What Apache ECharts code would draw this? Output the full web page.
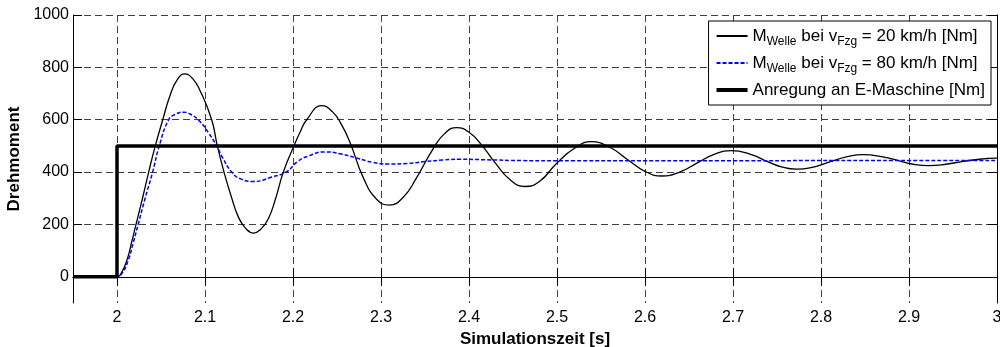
<!DOCTYPE html>
<html>
<head>
<meta charset="utf-8">
<script src="https://cdn.jsdelivr.net/npm/echarts@6/dist/echarts.min.js"></script>
<style>
  html, body { margin: 0; padding: 0; background: #fff; }
  #chart { width: 1000px; height: 347px; }
</style>
</head>
<body>
<div id="chart"></div>
<script>
// M_Welle at 20 km/h
const t20 = [1.95, 2.0, 2.005, 2.0114, 2.0165, 2.0216, 2.029, 2.036, 2.0435, 2.052, 2.06, 2.068, 2.077,
  2.086, 2.0943, 2.1076, 2.114, 2.1216, 2.13, 2.138, 2.146, 2.155, 2.164, 2.172, 2.18, 2.189, 2.201,
  2.208, 2.2156, 2.2326, 2.245, 2.255, 2.265, 2.28, 2.295, 2.3095, 2.325, 2.34, 2.359, 2.372, 2.386,
  2.40, 2.414, 2.43, 2.447, 2.4636, 2.48, 2.50, 2.52, 2.539, 2.56, 2.58, 2.60, 2.619, 2.64, 2.66,
  2.68, 2.698, 2.72, 2.74, 2.755, 2.772, 2.79, 2.81, 2.83, 2.848, 2.87, 2.89, 2.905, 2.922, 2.94,
  2.96, 2.98, 3.0]
const m20 = [0, 0, 15, 65, 130, 200, 300, 400, 500, 600, 690, 750, 775,
  757, 712, 600, 500, 400, 305, 228, 186, 167, 184, 222, 296, 400, 500,
  552, 600, 654, 630, 582, 511, 378, 296, 274, 303, 376, 488, 546, 570,
  552, 505, 434, 370, 345, 364, 435, 491, 516, 495, 448, 403, 385, 401, 436,
  470, 482, 468, 439, 420, 411, 418, 439, 459, 467, 458, 442, 430, 425, 429,
  440, 449, 453]

// M_Welle at 80 km/h
const t80 = [1.95, 2.0, 2.006, 2.013, 2.0185, 2.024, 2.032, 2.0405, 2.048, 2.0587, 2.066, 2.0757,
  2.085, 2.0943, 2.104, 2.1133, 2.12, 2.1303, 2.14, 2.155, 2.175, 2.193, 2.205, 2.218, 2.236,
  2.255, 2.272, 2.29, 2.308, 2.33, 2.35, 2.37, 2.39, 2.42, 2.46, 2.52, 2.6, 2.7, 2.8, 2.9, 3.0]
const m80 = [0, 0, 15, 65, 130, 200, 300, 400, 500, 600, 620, 629,
  618, 593, 550, 500, 455, 400, 375, 364, 380, 402, 440, 462, 477,
  469, 454, 438, 431, 433, 440, 446, 449, 447, 444, 443, 443, 443, 444, 444, 444]

// excitation at the e-machine
const tStep = [1.95, 2.0, 2.0, 3.0]
const mStep = [0, 0, 500, 500]

const xTicks = [2, 2.1, 2.2, 2.3, 2.4, 2.5, 2.6, 2.7, 2.8, 2.9, 3]
const yTicks = [0, 200, 400, 600, 800, 1000]

const names = [
  'M_Welle bei v_Fzg = 20 km/h [Nm]',
  'M_Welle bei v_Fzg = 80 km/h [Nm]',
  'Anregung an E-Maschine [Nm]'
]

const pairs = (xs, ys) => xs.map((x, i) => [x, ys[i]])
const font = '"Liberation Sans", Arial, Helvetica, sans-serif'

const chart = echarts.init(document.getElementById('chart'))

const gridLine = { show: true, lineStyle: { color: '#404040', width: 1, type: [7, 4] } }
const boxLine = { show: true, lineStyle: { color: '#000', width: 1 } }

chart.setOption({
  animation: false,
  grid: { left: 73, right: 3, top: 15, bottom: 44, outerBoundsMode: 'none' },
  legend: {
    data: [
      { name: names[0] },
      { name: names[1] },
      { name: names[2], lineStyle: { width: 4 } }
    ],
    orient: 'vertical',
    right: 9,
    top: 21,
    padding: [3, 6, 3, 6],
    itemGap: 3,
    itemWidth: 31,
    itemHeight: 14,
    selectedMode: false,
    backgroundColor: '#fff',
    borderColor: '#000',
    borderWidth: 1,
    borderRadius: 0,
    itemStyle: { opacity: 0, borderWidth: 0 },
    formatter: name => name.replace('M_Welle', 'M{s|Welle}').replace('v_Fzg', 'v{s|Fzg}'),
    textStyle: {
      fontFamily: font,
      fontSize: 17,
      lineHeight: 24,
      color: '#000',
      rich: { s: { fontFamily: font, fontSize: 12, lineHeight: 12, verticalAlign: 'bottom', color: '#000' } }
    }
  },
  xAxis: [{
    type: 'value',
    min: 1.95,
    max: 3,
    name: 'Simulationszeit [s]',
    nameLocation: 'middle',
    nameGap: 25,
    nameTextStyle: { fontFamily: font, fontSize: 17, fontWeight: 'bold', color: '#000' },
    axisLine: boxLine,
    axisTick: { show: true, inside: true, length: 9, customValues: xTicks, lineStyle: { color: '#000' } },
    axisLabel: {
      customValues: xTicks, margin: 7, fontFamily: font, fontSize: 16, color: '#000',
      formatter: v => String(+v.toFixed(2))
    },
    splitLine: gridLine
  }, {
    type: 'value',
    position: 'top',
    min: 1.95,
    max: 3,
    axisLine: boxLine,
    axisTick: { show: true, inside: true, length: 9, customValues: xTicks, lineStyle: { color: '#000' } },
    axisLabel: { show: false },
    splitLine: { show: false }
  }],
  yAxis: [{
    type: 'value',
    min: -100,
    max: 1000,
    name: 'Drehmoment',
    nameLocation: 'middle',
    nameGap: 38,
    nameRotate: 90,
    nameTextStyle: { fontFamily: font, fontSize: 17, fontWeight: 'bold', color: '#000' },
    axisLine: boxLine,
    axisTick: { show: true, inside: true, length: 9, customValues: yTicks, lineStyle: { color: '#000' } },
    axisLabel: {
      customValues: yTicks, margin: 4, fontFamily: font, fontSize: 16, color: '#000',
      formatter: v => String(v)
    },
    splitLine: gridLine
  }, {
    type: 'value',
    position: 'right',
    min: -100,
    max: 1000,
    axisLine: boxLine,
    axisTick: { show: true, inside: true, length: 9, customValues: yTicks, lineStyle: { color: '#000' } },
    axisLabel: { show: false },
    splitLine: { show: false }
  }],
  series: [
    {
      name: names[0],
      type: 'line',
      data: pairs(t20, m20),
      symbol: 'none',
      smooth: 0.5,
      lineStyle: { color: '#000', width: 1.3 },
      itemStyle: { color: '#000' }
    },
    {
      name: names[1],
      type: 'line',
      data: pairs(t80, m80),
      symbol: 'none',
      smooth: 0.5,
      lineStyle: { color: '#0000ff', width: 1.5, type: [4, 2] },
      itemStyle: { color: '#0000ff' }
    },
    {
      name: names[2],
      type: 'line',
      data: pairs(tStep, mStep),
      symbol: 'none',
      lineStyle: { color: '#000', width: 3.5 },
      itemStyle: { color: '#000' }
    }
  ]
})
</script>
</body>
</html>
